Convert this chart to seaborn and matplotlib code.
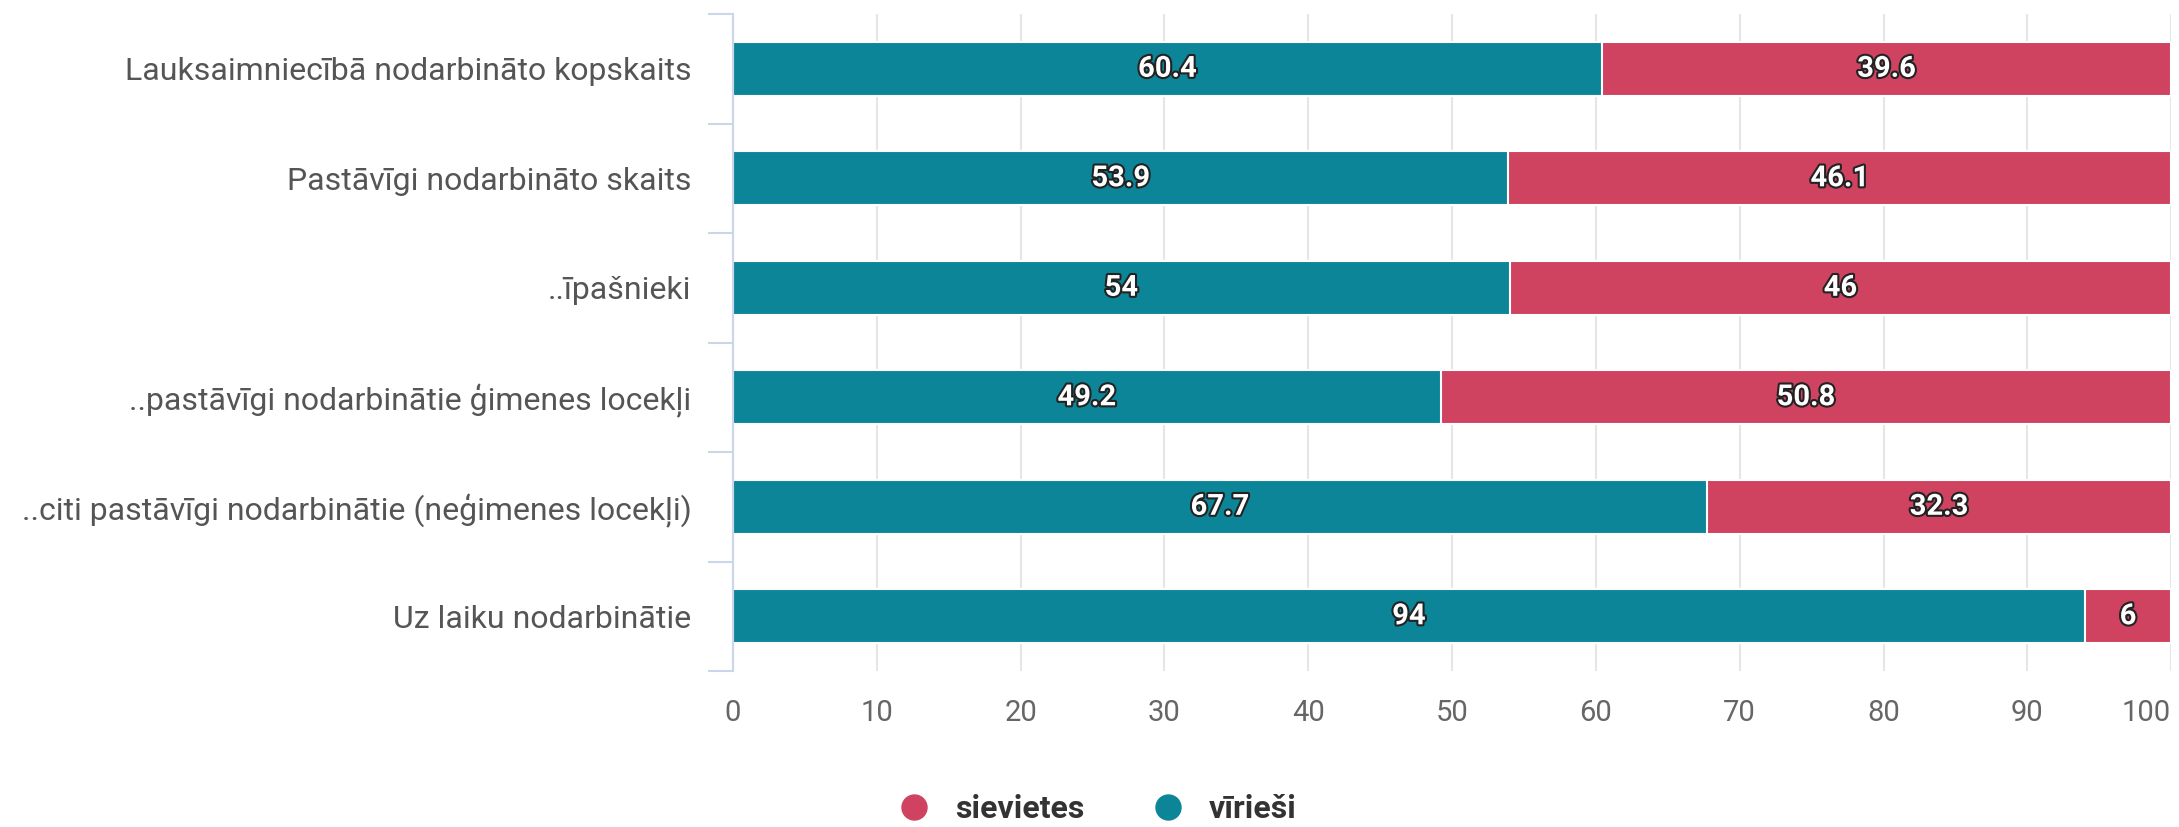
#!/usr/bin/env python3
"""Stacked horizontal bar chart: share of men / women in agricultural employment."""

import pandas as pd
import matplotlib.pyplot as plt
import matplotlib.patheffects as pe
from matplotlib.lines import Line2D
import seaborn as sns

# Data
categories = [
    "Lauksaimniecībā nodarbināto kopskaits",
    "Pastāvīgi nodarbināto skaits",
    "..īpašnieki",
    "..pastāvīgi nodarbinātie ģimenes locekļi",
    "..citi pastāvīgi nodarbinātie (neģimenes locekļi)",
    "Uz laiku nodarbinātie",
]
men = [60.4, 53.9, 54, 49.2, 67.7, 94]
women = [39.6, 46.1, 46, 50.8, 32.3, 6]
x_ticks = [0, 10, 20, 30, 40, 50, 60, 70, 80, 90, 100]

MEN_COLOR = "#0d8599"
WOMEN_COLOR = "#cf4360"
AXIS_COLOR = "#ccd6eb"
GRID_COLOR = "#e6e6e6"

sns.set_theme(style="white")
plt.rcParams['font.family'] = ['Roboto', 'DejaVu Sans']

df = pd.DataFrame({"category": categories, "men": men, "women": women})
df["total"] = df["men"] + df["women"]

fig = plt.figure(figsize=(21.79, 8.27), dpi=100)
ax = fig.add_axes([0.3364, 0.1886, 0.66, 0.7944])

# women stacked after men: draw total first, then men on top
sns.barplot(data=df, y="category", x="total", color=WOMEN_COLOR, orient="h",
            width=0.49, edgecolor="white", linewidth=1.5, saturation=1, ax=ax)
sns.barplot(data=df, y="category", x="men", color=MEN_COLOR, orient="h",
            width=0.49, edgecolor="white", linewidth=1.5, saturation=1, ax=ax)

# labels in the middle of each segment
outline = [pe.withStroke(linewidth=3, foreground="#222222")]
for i, row in df.iterrows():
    for start, val in [(0, row["men"]), (row["men"], row["women"])]:
        ax.text(start + val / 2, i, f"{val:g}", ha="center", va="center",
                color="white", fontsize=21, fontweight="bold",
                path_effects=outline, zorder=5)

ax.set_xlim(0, 100)
ax.set_ylim(len(categories) - 0.5, -0.5)
ax.set_xticks(x_ticks)
ax.set_xlabel("")
ax.set_ylabel("")

ax.grid(axis="x", color=GRID_COLOR, linewidth=1.5)
ax.set_axisbelow(True)

for side in ["top", "right", "bottom"]:
    ax.spines[side].set_visible(False)
ax.spines["left"].set_color(AXIS_COLOR)
ax.spines["left"].set_linewidth(1.5)

# category boundary ticks on the left axis
ax.set_yticks([i - 0.5 for i in range(len(categories) + 1)], minor=True)
ax.tick_params(axis="y", which="minor", length=18, width=1.5, color=AXIS_COLOR, left=True)
ax.tick_params(axis="y", which="major", length=0, pad=30, labelsize=23, labelcolor="#555555")
ax.tick_params(axis="x", length=0, pad=20, labelsize=21, labelcolor="#666666")

# keep the last x label inside the figure
ax.get_xticklabels()[-1].set_horizontalalignment("right")

# legend
handles = [
    Line2D([], [], marker="o", linestyle="", markersize=18, color=WOMEN_COLOR, label="sievietes"),
    Line2D([], [], marker="o", linestyle="", markersize=18, color=MEN_COLOR, label="vīrieši"),
]
leg = fig.legend(handles=handles, loc="center", bbox_to_anchor=(0.5, 0.022), ncol=2,
                 frameon=False, handletextpad=0.3, columnspacing=1.6,
                 prop={"weight": "bold", "size": 23})
for t in leg.get_texts():
    t.set_color("#333333")

plt.savefig("out.png", dpi=100)
